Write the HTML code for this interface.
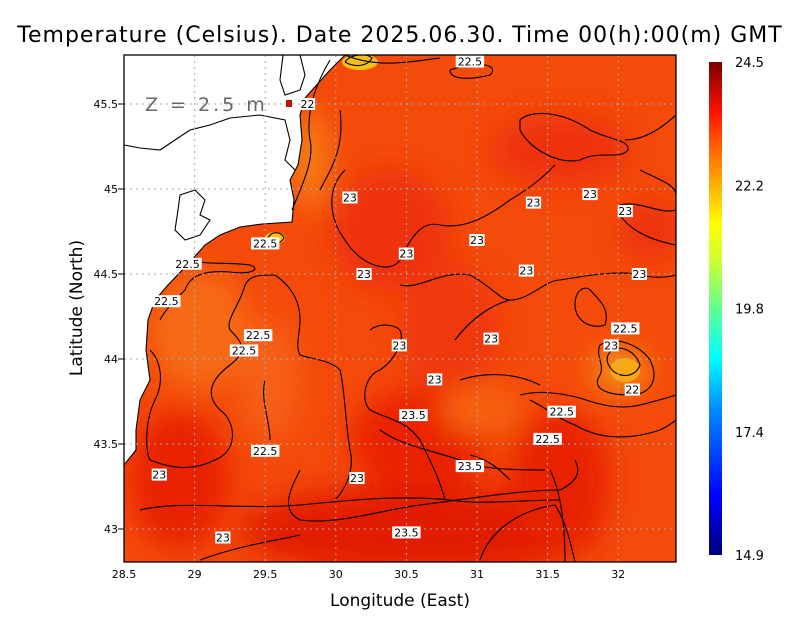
<!DOCTYPE html>
<html><head><meta charset="utf-8">
<style>
body{margin:0;background:#fff;}
svg{display:block;font-family:"DejaVu Sans","Liberation Sans",sans-serif;}
</style></head>
<body>
<svg id="chart" width="800" height="618" viewBox="0 0 800 618">
<defs>
<linearGradient id="cbar" x1="0" y1="1" x2="0" y2="0">
<stop offset="0" stop-color="#00007a"/><stop offset="0.12" stop-color="#0000ff"/>
<stop offset="0.3" stop-color="#0090ff"/><stop offset="0.4" stop-color="#00ffff"/>
<stop offset="0.5" stop-color="#60ff90"/><stop offset="0.6" stop-color="#d0ff30"/>
<stop offset="0.67" stop-color="#ffff00"/><stop offset="0.75" stop-color="#ffb000"/>
<stop offset="0.83" stop-color="#ff6000"/><stop offset="0.9" stop-color="#ff1000"/>
<stop offset="1" stop-color="#7a0000"/></linearGradient>
<filter id="blur" x="-50%" y="-50%" width="200%" height="200%"><feGaussianBlur stdDeviation="14"/></filter>
<clipPath id="plotclip"><rect x="124" y="55" width="552" height="507"/></clipPath>
</defs>
<text x="400" y="42" text-anchor="middle" font-size="22" letter-spacing="1" fill="#000">Temperature (Celsius). Date 2025.06.30. Time 00(h):00(m) GMT</text>
<g clip-path="url(#plotclip)">
<rect x="124" y="55" width="552" height="507" fill="#f44a0a"/>
<g filter="url(#blur)">
<ellipse cx="390" cy="230" rx="60" ry="60" fill="#ee3008"/>
<ellipse cx="560" cy="150" rx="70" ry="35" fill="#ee3008"/>
<ellipse cx="450" cy="330" rx="50" ry="70" fill="#f03808"/>
<ellipse cx="420" cy="440" rx="70" ry="50" fill="#ea2206"/>
<ellipse cx="420" cy="530" rx="180" ry="45" fill="#e21a05"/>
<ellipse cx="560" cy="480" rx="50" ry="70" fill="#e82206"/>
<ellipse cx="180" cy="480" rx="50" ry="70" fill="#e82206"/>
<ellipse cx="200" cy="330" rx="50" ry="60" fill="#f66a12"/>
<ellipse cx="270" cy="380" rx="30" ry="60" fill="#f56012"/>
<ellipse cx="480" cy="410" rx="40" ry="25" fill="#f66410"/>
<ellipse cx="620" cy="370" rx="28" ry="22" fill="#f59014"/>
<ellipse cx="310" cy="160" rx="18" ry="50" fill="#f68014"/>
<ellipse cx="650" cy="230" rx="30" ry="30" fill="#ee3008"/>
</g>
<ellipse cx="360" cy="62" rx="18" ry="8" fill="#f7c010"/>
<ellipse cx="275" cy="238" rx="10" ry="6" fill="#f7c010"/>
<ellipse cx="625" cy="370" rx="15" ry="12" fill="#f7a812"/>
<path d="M124 55 L345 55 L330 70 L305 98 L300 115 L302 140 L298 165 L290 180 L294 200 L292 222 L262 224 L240 227 L220 235 L205 245 L190 262 L168 285 L155 300 L148 320 L146 350 L150 380 L140 400 L136 430 L136 450 L124 465 Z" fill="#fff"/>
<g fill="none" stroke="#000" stroke-width="1.1">
<path d="M345 55 L330 70 L305 98 L300 115 L302 140 L298 165 L290 180 L294 200 L292 222 L262 224 L240 227 L220 235 L205 245 L190 262 L168 285 L155 300 L148 320 L146 350 L150 380 L140 400 L136 430 L136 450 L124 465"/>
<path d="M124 145 L140 148 L160 150 L175 140 L190 130 L210 125 L230 118 L260 115 L285 120 L290 140 L285 160 L295 170"/>
<path d="M180 195 L195 190 L205 200 L200 215 L210 220 L200 235 L185 240 L175 230 L178 210 Z"/>
<path d="M283 55 L280 80 L285 95 L300 90 L305 75 L300 55"/>
</g>
<g fill="none" stroke="#000" stroke-width="1.1">
<path d="M345 55 C380 70 420 60 440 58"/>
<path d="M330 60 C318 80 305 110 310 140 C315 160 300 190 292 210"/>
<path d="M340 110 C345 150 330 170 320 190"/>
<path d="M345 170 C325 190 330 220 345 240 C360 265 390 275 400 260 C410 240 420 220 440 225 C465 230 490 215 510 200 C535 185 545 175 555 165"/>
<path d="M520 120 C530 110 560 110 590 130 C610 140 630 140 628 150 C620 160 600 150 580 160 C560 165 530 150 520 130 Z"/>
<path d="M625 140 C650 140 670 120 676 115"/>
<path d="M640 170 C660 180 676 185 676 195"/>
<path d="M620 205 C640 200 660 215 676 210 M676 245 C650 240 630 230 620 215"/>
<path d="M450 70 C480 60 500 65 490 75 C470 80 450 80 450 70"/>
<path d="M192 260 C205 265 230 262 250 265 C260 268 255 275 230 272 C205 270 190 275 185 290 C175 300 165 310 160 320"/>
<path d="M150 350 C160 360 165 380 155 400 C145 420 145 450 150 460 C175 470 195 470 215 460 C240 450 235 420 220 410 C205 395 210 380 230 365 C250 350 240 340 230 330 C225 320 240 305 245 285 M245 285 C250 275 260 275 275 275"/>
<path d="M275 275 C290 285 300 300 300 320 C300 335 295 345 300 355 C315 360 330 360 340 370 C345 390 345 420 350 450 C355 470 345 490 335 500"/>
<path d="M270 440 C270 420 260 400 265 380"/>
<path d="M400 285 C420 290 440 270 470 275 C490 285 500 300 510 300 C530 300 545 280 560 280 C590 275 620 270 640 275 C660 280 676 275 676 275"/>
<path d="M370 330 C380 322 395 325 400 330 C405 340 395 360 380 370 C365 375 360 400 370 410 C390 420 405 420 420 440 C430 460 440 480 445 500"/>
<path d="M455 340 C470 320 490 305 510 300"/>
<path d="M300 470 C290 490 280 510 300 520 C340 525 380 510 420 505 C460 500 520 490 560 490 C580 480 580 470 575 460"/>
<path d="M380 430 C400 445 430 450 460 460 C480 470 520 470 545 470"/>
<path d="M590 290 C600 300 610 310 605 325 C590 330 575 320 575 305 C575 290 585 285 590 290 Z"/>
<path d="M600 345 C615 335 640 345 650 360 C660 380 650 395 630 395 C610 395 590 390 600 375 C605 365 595 355 600 345 Z"/>
<path d="M520 395 C540 390 560 393 580 398 C600 405 620 410 640 405 C660 400 676 395 676 395"/>
<path d="M530 400 C550 410 560 420 575 425 C600 440 630 440 660 430 C670 425 676 420 676 420"/>
<path d="M140 510 C180 500 240 510 300 505 C350 500 400 495 450 500 C480 505 520 500 560 500"/>
<path d="M200 560 C240 545 280 540 300 535"/>
<path d="M480 560 C490 530 520 510 555 505 C565 520 570 540 575 562"/>
<path d="M550 470 C560 490 565 520 565 562"/>
<path d="M460 380 C490 370 520 375 540 385"/>
<path d="M470 455 C490 460 500 470 510 480"/>
<path d="M345 62 C350 55 365 52 372 58 C368 66 355 68 345 62"/>
<path d="M268 238 C272 230 282 232 284 238 C280 245 270 245 268 238"/>
<path d="M612 350 C620 345 635 350 640 365 C635 378 620 378 612 370 C605 362 606 355 612 350"/>
</g>
<g id="grid" stroke="#a8a8a8" stroke-width="1" stroke-dasharray="2,4"></g>
<g id="labels"></g>
<rect x="286" y="100" width="6" height="7" fill="#c01010"/>
</g>
<text x="145" y="111" font-size="19" fill="#666" letter-spacing="3">Z = 2.5 m</text>
<rect x="124" y="55" width="552" height="507" fill="none" stroke="#000" stroke-width="1.3"/>
<g id="axes" font-size="11" fill="#000"></g>
<text x="400" y="606" text-anchor="middle" font-size="17">Longitude (East)</text>
<text x="0" y="0" transform="translate(82 308) rotate(-90)" text-anchor="middle" font-size="17">Latitude (North)</text>
<rect x="709" y="62" width="13" height="493" fill="url(#cbar)"/>
<g id="cblabels" font-size="13"></g>
</svg>
<script>
const lonTicks=[28.5,29,29.5,30,30.5,31,31.5,32];
const latTicks=[43,43.5,44,44.5,45,45.5];
const cbTicks=["24.5","22.2","19.8","17.4","14.9"];
const labelLon=[30.95,30.1,29.5,28.95,28.8,29.45,29.35,30.45,30.55,30.15,31.0,31.4,31.35,31.1,30.7,31.5,32.05,31.95,32.05,32.1,32.15,30.5,30.95,29.2,30.2,30.5,31.6,31.8,28.75,29.5,29.8];
const labelLat=[45.75,44.95,44.68,44.56,44.34,44.14,44.05,44.08,43.67,43.3,44.7,44.92,44.52,44.12,43.88,43.53,44.87,44.08,44.18,43.82,44.5,44.62,43.37,42.95,44.5,42.98,43.69,44.97,43.32,43.46,45.5];
const labelVal=["22.5","23","22.5","22.5","22.5","22.5","22.5","23","23.5","23","23","23","23","23","23","22.5","23","23","22.5","22","23","23","23.5","23","23","23.5","22.5","23","23","22.5","22"];
const X=lon=>124+(lon-28.5)*141.2;
const Y=lat=>529-(lat-43)*170;
const NS="http://www.w3.org/2000/svg";
const grid=document.getElementById('grid'),axes=document.getElementById('axes');
lonTicks.forEach(v=>{
 if(v>28.5){const l=document.createElementNS(NS,'line');l.setAttribute('x1',X(v));l.setAttribute('x2',X(v));l.setAttribute('y1',55);l.setAttribute('y2',562);
 
 
 grid.appendChild(l);}
 const t=document.createElementNS(NS,'text');t.setAttribute('x',X(v));t.setAttribute('y',578);t.setAttribute('text-anchor','middle');t.textContent=v;
 
 
 axes.appendChild(t);
});
latTicks.forEach(v=>{
 const l=document.createElementNS(NS,'line');l.setAttribute('x1',124);l.setAttribute('x2',676);l.setAttribute('y1',Y(v));l.setAttribute('y2',Y(v));
 
 
 grid.appendChild(l);
 const t=document.createElementNS(NS,'text');t.setAttribute('x',118);t.setAttribute('y',Y(v)+4);t.setAttribute('text-anchor','end');t.textContent=v;
 
 
 axes.appendChild(t);
 const k=document.createElementNS(NS,'line');k.setAttribute('x1',118);k.setAttribute('x2',124);k.setAttribute('y1',Y(v));k.setAttribute('y2',Y(v));k.setAttribute('stroke','#000');
 
 
 axes.appendChild(k);
});
const lab=document.getElementById('labels');
labelVal.forEach((v,i)=>{
 const g=document.createElementNS(NS,'g');
 
 
 const w=v.length*6.6+2,x=X(labelLon[i]),y=Y(labelLat[i]);
 const r=document.createElementNS(NS,'rect');r.setAttribute('x',x-w/2);r.setAttribute('y',y-6);r.setAttribute('width',w);r.setAttribute('height',12);r.setAttribute('fill','#fff');
 const t=document.createElementNS(NS,'text');t.setAttribute('x',x);t.setAttribute('y',y+4);t.setAttribute('text-anchor','middle');t.setAttribute('font-size','11');t.textContent=v;
 g.appendChild(r);g.appendChild(t);lab.appendChild(g);
});
const cb=document.getElementById('cblabels');
cbTicks.forEach((v,i)=>{
 const t=document.createElementNS(NS,'text');t.setAttribute('x',735);t.setAttribute('y',62+i*123.25+5);t.textContent=v;
 
 
 cb.appendChild(t);
});
</script>
</body></html>
